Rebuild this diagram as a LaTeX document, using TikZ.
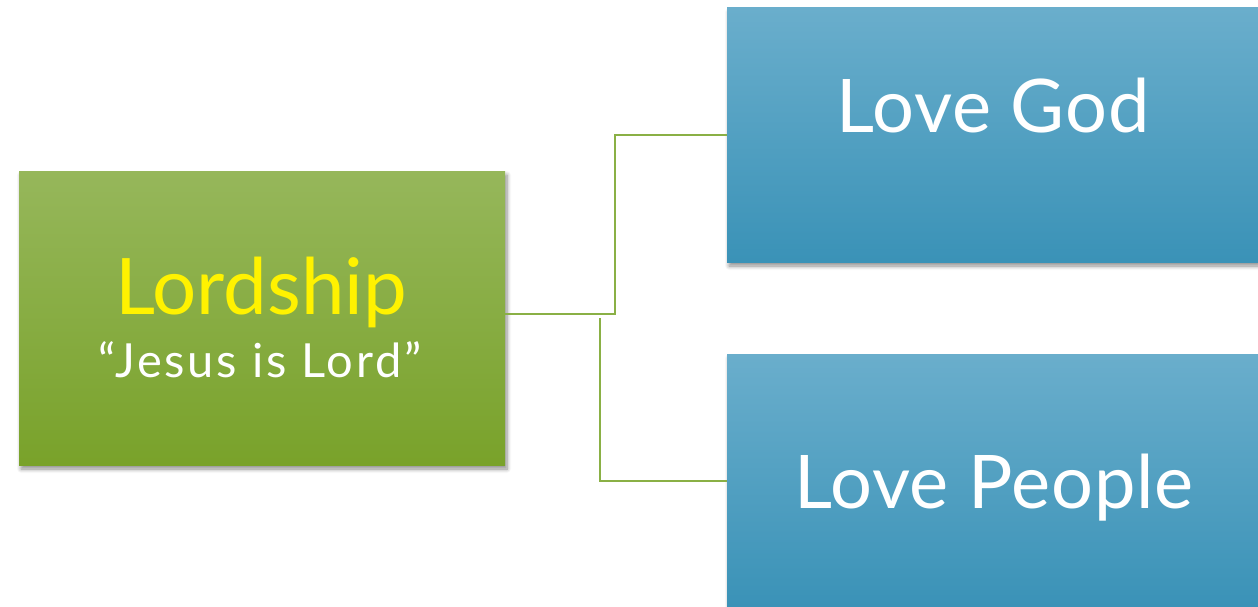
\documentclass[tikz,border=0pt]{standalone}
\usepackage{fontspec}
\setmainfont{Lato}
\usetikzlibrary{shadows.blur}
\definecolor{gtop}{HTML}{96B75B}
\definecolor{gbot}{HTML}{79A22A}
\definecolor{btop}{HTML}{6AAECC}
\definecolor{bbot}{HTML}{3A92B7}
\definecolor{linkc}{HTML}{8AB045}
\tikzset{
  boxshadow/.style={blur shadow={shadow xshift=2pt, shadow yshift=-4pt, shadow blur steps=6, shadow opacity=45, shadow blur radius=4pt}},
  greenbox/.style={rectangle, inner sep=0pt, minimum width=486pt, minimum height=294pt, top color=gtop, bottom color=gbot, boxshadow},
  bluebox/.style={rectangle, inner sep=0pt, minimum width=531pt, minimum height=254pt, top color=btop, bottom color=bbot, boxshadow},
  bigtext/.style={anchor=base, inner sep=0pt, text=white, font=\fontsize{74}{74}\selectfont\addfontfeature{LetterSpace=1}},
  subtext/.style={anchor=base, inner sep=0pt, text=white, font=\fontsize{47}{47}\selectfont\addfontfeature{LetterSpace=6}},
  link/.style={draw=linkc, line width=1.8pt}
}
\begin{document}
\begin{tikzpicture}[x=1pt,y=-1pt]
\useasboundingbox (0,0) rectangle (1258,607);
\node[greenbox] (g) at (262,318) {};
\node[bluebox] (t) at (992.5,135) {};
\node[bluebox] (b) at (992.5,481) {};
\node[anchor=base, inner sep=0pt, text=yellow, font=\fontsize{78}{78}\selectfont] (lord) at (261,314) {Lordship};
\node[subtext] (jesus) at (260,377) {“Jesus is Lord”};
\node[bigtext] (lg) at (993,133) {Love God};
\node[bigtext] (lp) at (994,508) {Love People};
\coordinate (j1) at (615,314);
\coordinate (j2) at (600,318);
\draw[link] (g.east |- j1) -- (j1) |- (t.west);
\draw[link] (j2) |- (b.west);
\end{tikzpicture}
\end{document}
